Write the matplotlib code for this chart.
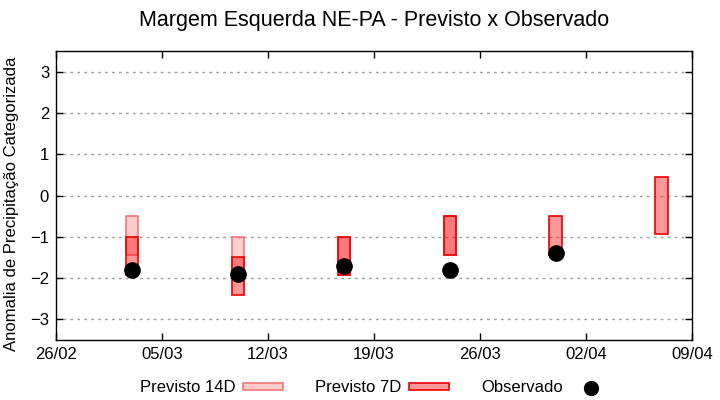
import matplotlib
matplotlib.use("Agg")
import matplotlib.pyplot as plt
import matplotlib.dates as mdates
from matplotlib.patches import Patch
from matplotlib.lines import Line2D
from datetime import datetime

plt.rcParams['font.family'] = ['Liberation Sans', 'DejaVu Sans']

# semanas (datas centrais das barras)
semanas = ['2023-03-03', '2023-03-10', '2023-03-17', '2023-03-24', '2023-03-31', '2023-04-07']

# previsao 14 dias (limite superior / inferior), None = sem previsao
prev14_sup = [-0.5, -1.0, -1.0, -0.5, None, None]
prev14_inf = [-1.43, -1.85, -1.93, -1.43, None, None]

# previsao 7 dias
prev7_sup = [-1.0, -1.5, -1.0, -0.5, -0.5, 0.44]
prev7_inf = [-1.93, -2.42, -1.93, -1.43, -1.43, -0.94]

# observado
observado = [-1.8, -1.9, -1.7, -1.8, -1.4, None]

x_ticks = ['2023-02-26', '2023-03-05', '2023-03-12', '2023-03-19',
           '2023-03-26', '2023-04-02', '2023-04-09']

datas = [datetime.strptime(d, '%Y-%m-%d') for d in semanas]
xt = [datetime.strptime(d, '%Y-%m-%d') for d in x_ticks]
largura = 0.8

fig = plt.figure(figsize=(7.2, 4.0), dpi=100)
ax = fig.add_axes([0.0778, 0.15, 0.883, 0.7225])

cor14_face = (1, 0, 0, 0.2)
cor14_borda = '#f07878'
cor7_face = (1, 0, 0, 0.4)
cor7_borda = '#ee0000'

for d, s, i in zip(datas, prev14_sup, prev14_inf):
    if s is None:
        continue
    ax.bar(d, s - i, bottom=i, width=largura, color=cor14_face,
           edgecolor=cor14_borda, linewidth=1.2, zorder=2)

for d, s, i in zip(datas, prev7_sup, prev7_inf):
    if s is None:
        continue
    ax.bar(d, s - i, bottom=i, width=largura, color=cor7_face,
           edgecolor=cor7_borda, linewidth=1.2, zorder=3)

obs_d = [d for d, o in zip(datas, observado) if o is not None]
obs_v = [o for o in observado if o is not None]
ax.plot(obs_d, obs_v, 'o', color='black', markersize=11, zorder=4)

ax.set_xlim(xt[0], xt[-1])
ax.set_ylim(-3.5, 3.5)
ax.set_xticks(xt)
ax.xaxis.set_major_formatter(mdates.DateFormatter('%d/%m'))
ax.set_yticks(range(-3, 4))
ax.tick_params(direction='in', top=True, right=True, labelsize=12,
               length=5, width=1, pad=5)
ax.grid(axis='y', color='#a0a0a0', linestyle=(0, (2, 3)), linewidth=1)
for sp in ax.spines.values():
    sp.set_linewidth(1)

ax.set_ylabel('Anomalia de Precipitação Categorizada', fontsize=12)
ax.yaxis.set_label_coords(-0.058, 0.47)
fig.suptitle('Margem Esquerda NE-PA - Previsto x Observado', fontsize=15.5,
             x=0.519, y=0.975)

handles = [
    Patch(facecolor=cor14_face, edgecolor=cor14_borda, linewidth=1.2),
    Patch(facecolor=cor7_face, edgecolor=cor7_borda, linewidth=1.2),
    Line2D([], [], marker='o', color='black', linestyle='none', markersize=10),
]
labels = ['Previsto 14D', 'Previsto 7D', 'Observado']
fig.legend(handles, labels, loc='center', bbox_to_anchor=(0.521, 0.03), ncol=3,
           frameon=False, markerfirst=False, fontsize=12, handlelength=2.4,
           handleheight=0.35, columnspacing=1.95, handletextpad=0.45)

fig.savefig('out.png', dpi=100)
